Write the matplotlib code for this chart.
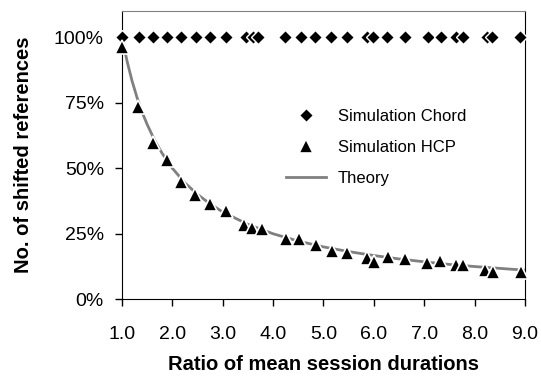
import matplotlib
matplotlib.use("Agg")
import matplotlib.pyplot as plt
from matplotlib.ticker import PercentFormatter

plt.rcParams['font.family'] = ['Liberation Sans', 'DejaVu Sans']

# simulation runs (ratio of mean session durations)
chord_x = [1.0, 1.34, 1.61, 1.89, 2.18, 2.47, 2.75, 3.06, 3.46, 3.61, 3.70, 4.23, 4.55,
           4.83, 5.14, 5.47, 5.86, 5.99, 6.26, 6.62, 7.08, 7.34, 7.64, 7.77, 8.24, 8.34, 8.90]
chord_y = [1.0] * len(chord_x)

hcp_x = [1.0, 1.31, 1.62, 1.90, 2.17, 2.45, 2.75, 3.06, 3.43, 3.59, 3.77, 4.25, 4.52,
         4.85, 5.16, 5.46, 5.87, 6.00, 6.28, 6.62, 7.05, 7.31, 7.64, 7.77, 8.20, 8.37, 8.93]
hcp_y = [0.964, 0.735, 0.595, 0.530, 0.449, 0.398, 0.364, 0.338, 0.284, 0.271, 0.267, 0.229, 0.231,
         0.207, 0.184, 0.176, 0.159, 0.143, 0.163, 0.153, 0.137, 0.147, 0.131, 0.130, 0.110, 0.104, 0.105]

theory_x = [1.0, 1.1, 1.2, 1.3, 1.4, 1.5, 1.65, 1.8, 2.0, 2.25, 2.5, 2.75, 3.0, 3.5, 4.0, 4.5,
            5.0, 5.5, 6.0, 6.5, 7.0, 7.5, 8.0, 8.5, 9.0]
theory_y = [1.0, 0.909, 0.833, 0.769, 0.714, 0.667, 0.606, 0.556, 0.500, 0.444, 0.400, 0.364,
            0.333, 0.286, 0.250, 0.222, 0.200, 0.182, 0.167, 0.154, 0.143, 0.133, 0.125, 0.118, 0.111]

fig = plt.figure(figsize=(5.41, 3.76), dpi=100)
ax = fig.add_axes([0.2255, 0.204, 0.7449, 0.7667])

ax.plot(theory_x, theory_y, color='#808080', lw=2, label='Theory', zorder=2)
ax.plot(chord_x, chord_y, ls='none', marker='D', ms=7, color='black',
        mec='white', mew=1, label='Simulation Chord', zorder=3, clip_on=False)
ax.plot(hcp_x, hcp_y, ls='none', marker='^', ms=10, color='black',
        mec='white', mew=1.2, label='Simulation HCP', zorder=4, clip_on=False)

ax.set_xlim(1, 9)
ax.set_ylim(0, 1.1)
ax.set_xticks(range(1, 10))
ax.set_xticklabels(['%.1f' % v for v in range(1, 10)])
ax.set_yticks([0, 0.25, 0.5, 0.75, 1.0])
ax.yaxis.set_major_formatter(PercentFormatter(1.0, decimals=0))
ax.tick_params(labelsize=14, direction='out', length=5, width=1, color='black')
ax.tick_params(axis='x', pad=14)
ax.tick_params(axis='y', pad=8)

ax.spines['top'].set_color('#808080')
ax.spines['right'].set_color('black')

ax.set_xlabel('Ratio of mean session durations', fontsize=14.5, fontweight='bold', labelpad=9)
ax.set_ylabel('No. of shifted references', fontsize=14.5, fontweight='bold', labelpad=15)

h, l = ax.get_legend_handles_labels()
order = [1, 2, 0]
ax.legend([h[i] for i in order], [l[i] for i in order], loc='upper left',
          bbox_to_anchor=(0.387, 0.688), frameon=False, fontsize=12, numpoints=1,
          borderpad=0, handlelength=2.4, handletextpad=0.7, labelspacing=0.95)

fig.savefig('out.png', dpi=100)
